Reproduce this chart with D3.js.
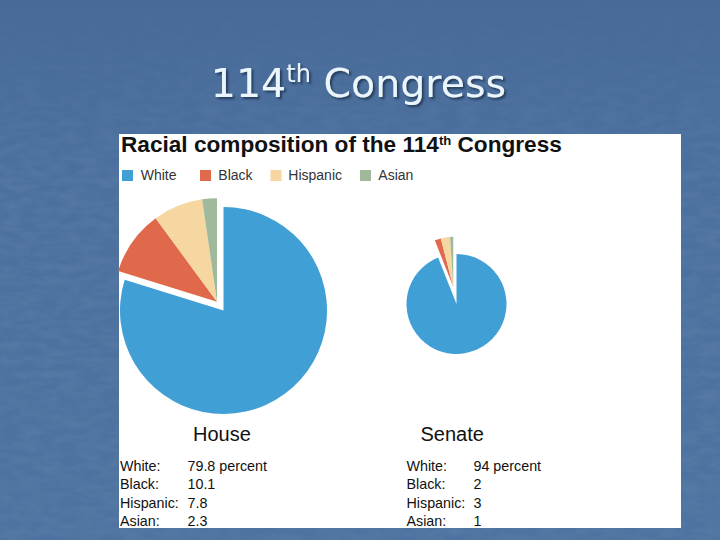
<!DOCTYPE html>
<html><head><meta charset="utf-8">
<script src="https://cdn.jsdelivr.net/npm/d3@7"></script>
<style>html,body{margin:0;padding:0;background:#4b6f9c;}svg{display:block;}</style>
</head><body>
<script>
const categories = ["White", "Black", "Hispanic", "Asian"];
const houseValues = [79.8, 10.1, 7.8, 2.3];
const senateValues = [94, 2, 3, 1];
const houseLabels = ["79.8 percent", "10.1", "7.8", "2.3"];
const senateLabels = ["94 percent", "2", "3", "1"];
const chambers = ["House", "Senate"];

const palette = ["#40a0d6", "#e0694b", "#f6d7a1", "#a0b99b"];
const W = 720, H = 540;

const svg = d3.select("body").append("svg").attr("width", W).attr("height", H);
const defs = svg.append("defs");
const grad = defs.append("linearGradient").attr("id", "bg").attr("x1", 0).attr("y1", 0).attr("x2", 0).attr("y2", 1);
grad.append("stop").attr("offset", "0").attr("stop-color", "#476a98");
grad.append("stop").attr("offset", "0.3").attr("stop-color", "#4c709e");
grad.append("stop").attr("offset", "1").attr("stop-color", "#4e73a0");
const tex = defs.append("filter").attr("id", "tex").attr("x", 0).attr("y", 0).attr("width", 1).attr("height", 1);
tex.append("feTurbulence").attr("type", "fractalNoise").attr("baseFrequency", "0.05 0.14").attr("numOctaves", 3).attr("seed", 4);
tex.append("feColorMatrix").attr("type", "matrix").attr("values", "0 0 0 0 1  0 0 0 0 1  0 0 0 0 1  0 0 0 0.16 -0.05");
const fade = defs.append("linearGradient").attr("id", "fade").attr("x1", 0).attr("y1", 0).attr("x2", 0).attr("y2", 1);
fade.append("stop").attr("offset", "0").attr("stop-color", "#fff").attr("stop-opacity", 0.1);
fade.append("stop").attr("offset", "0.35").attr("stop-color", "#fff").attr("stop-opacity", 1);
fade.append("stop").attr("offset", "1").attr("stop-color", "#fff").attr("stop-opacity", 1);
defs.append("mask").attr("id", "fm").append("rect").attr("width", W).attr("height", H).attr("fill", "url(#fade)");
const sh = defs.append("filter").attr("id", "sh").attr("x", -0.1).attr("y", -0.2).attr("width", 1.2).attr("height", 1.5);
sh.append("feDropShadow").attr("dx", 2).attr("dy", 2).attr("stdDeviation", 1).attr("flood-color", "#1d2f4a").attr("flood-opacity", 0.8);

svg.append("rect").attr("width", W).attr("height", H).attr("fill", "url(#bg)");
svg.append("rect").attr("width", W).attr("height", H).attr("filter", "url(#tex)").attr("mask", "url(#fm)").attr("opacity", 0.6);

// slide title
const t = svg.append("text").attr("x", 358.5).attr("y", 97).attr("text-anchor", "middle")
  .attr("font-family", "DejaVu Sans, Verdana, sans-serif").attr("font-size", 39.5)
  .attr("fill", "#eaf5fc").attr("filter", "url(#sh)");
t.append("tspan").text("114");
t.append("tspan").attr("font-size", 24).attr("dy", -15).text("th");
t.append("tspan").attr("dy", 15).text(" Congress");

// panel
const px = 119, py = 134, pw = 562, ph = 394;
svg.append("rect").attr("x", px).attr("y", py).attr("width", pw).attr("height", ph).attr("fill", "#ffffff");

const font = "Liberation Sans, Arial, sans-serif";
const st = svg.append("text").attr("x", 121).attr("y", 152).attr("font-family", font)
  .attr("font-weight", "bold").attr("font-size", 19).attr("fill", "#111");
st.append("tspan").text("Racial composition of the 114");
st.append("tspan").attr("font-size", 11).attr("dy", -7).text("th");
st.append("tspan").attr("dy", 7).text(" Congress");
const bw = st.node().getBBox().width;
st.attr("font-size", 19 * 441 / bw);
st.selectAll("tspan").filter((d, i) => i === 1).attr("font-size", 11 * 441 / bw);

// legend
const legX = [122, 200, 270.5, 360];
const legTX = [140.7, 218.3, 288.3, 378.3];
const leg = svg.append("g");
categories.forEach((c, i) => {
  leg.append("rect").attr("x", legX[i]).attr("y", 170).attr("width", 11).attr("height", 11).attr("fill", palette[i]);
  leg.append("text").attr("x", legTX[i]).attr("y", 180).attr("font-family", font)
    .attr("font-size", 14).attr("fill", "#333").text(c);
});

function drawPie(values, cx, cy, r, off) {
  const arcs = d3.pie().sort(null).value(d => d)(values);
  const arc = d3.arc().innerRadius(0).outerRadius(r);
  const mid = (arcs[1].startAngle + 2 * Math.PI) / 2;
  const ox = Math.sin(mid) * off, oy = -Math.cos(mid) * off;
  const g = svg.append("g").attr("transform", `translate(${cx},${cy})`);
  g.selectAll("path").data(arcs).join("path")
    .attr("d", arc)
    .attr("fill", (d, i) => palette[i])
    .attr("transform", (d, i) => i === 0 ? null : `translate(${ox},${oy})`);
}
drawPie(houseValues, 223.5, 310.5, 103.5, 11);
drawPie(senateValues, 456.5, 304, 50, 17.5);

// chamber names
const nameX = [193, 420.5];
chambers.forEach((c, i) => {
  svg.append("text").attr("x", nameX[i]).attr("y", 441).attr("font-family", font)
    .attr("font-size", 20).attr("fill", "#111").text(c);
});

// stats
const colX = [[120, 187.5], [406.5, 473.5]];
const rowsY = [471, 489.3, 507.6, 525.8];
[houseLabels, senateLabels].forEach((labels, k) => {
  categories.forEach((c, i) => {
    svg.append("text").attr("x", colX[k][0]).attr("y", rowsY[i]).attr("font-family", font)
      .attr("font-size", 14.3).attr("fill", "#111").text(c + ":");
    svg.append("text").attr("x", colX[k][1]).attr("y", rowsY[i]).attr("font-family", font)
      .attr("font-size", 14.3).attr("fill", "#111").text(labels[i]);
  });
});
</script>
</body></html>
